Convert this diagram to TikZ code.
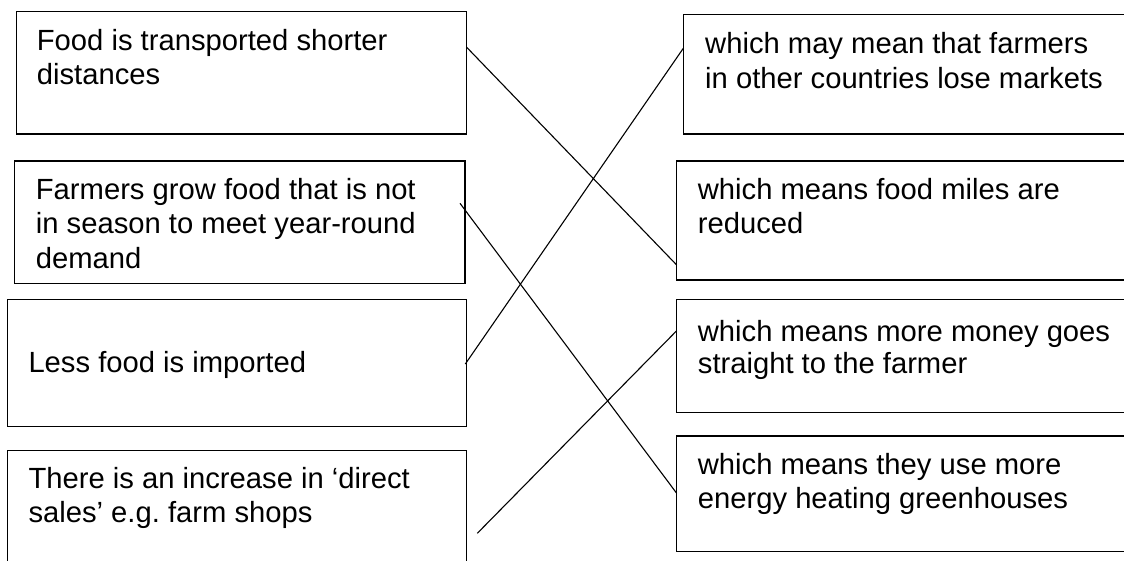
\documentclass[tikz,border=0pt]{standalone}
\usepackage{fontspec}
\setmainfont{Liberation Sans}
\frenchspacing
\begin{document}
\begin{tikzpicture}[x=1pt,y=-1pt,
  box/.style={draw=black, line width=1.4pt, inner sep=0pt, outer sep=0pt, anchor=north west},
  txt/.style={anchor=north west, inner sep=0pt, align=left,
              font=\fontsize{29.2}{34.6}\selectfont},
  link/.style={draw=black, line width=1.1pt}]
% page area; the right-hand boxes and the last left box run past its edges
\clip (0,0) rectangle (1124,560);
\fill[white] (0,0) rectangle (1124,560);

% left column: causes
\node[box, minimum width=450.4pt, minimum height=122.7pt] (L1) at (16.3,11.3) {};
\node[box, minimum width=450.3pt, minimum height=122.3pt] (L2) at (14.7,161) {};
\node[box, minimum width=459.0pt, minimum height=127.4pt] (L3) at (7.3,299.3) {};
\node[box, minimum width=459.0pt, minimum height=130pt]   (L4) at (7.3,450.7) {};

% right column: consequences
\node[box, minimum width=460pt, minimum height=119.3pt] (R1) at (683.3,14.7) {};
\node[box, minimum width=470pt, minimum height=119pt]   (R2) at (676.7,161) {};
\node[box, minimum width=470pt, minimum height=113.4pt] (R3) at (676.7,299.3) {};
\node[box, minimum width=470pt, minimum height=115.7pt] (R4) at (676.7,436) {};

% texts (top of each node sits 22pt above the first baseline)
\node[txt] (tL1) at (36.7,28)    {\rule{0pt}{22pt}Food is transported shorter\\distances};
\node[txt] (tL2) at (35.7,177)   {\rule{0pt}{22pt}Farmers grow food that is not\\in season to meet year-round\\demand};
\node[txt] (tL3) at (28.3,350.5) {\rule{0pt}{22pt}Less food is imported};
\node[txt] (tL4) at (28.3,466)   {\rule{0pt}{22pt}There is an increase in ‘direct\\sales’ e.g. farm shops};
\node[txt] (tR1) at (705,31.3)   {\rule{0pt}{22pt}which may mean that farmers\\in other countries lose markets};
\node[txt] (tR2) at (697.7,177)  {\rule{0pt}{22pt}which means food miles are\\reduced};
\node[txt, font=\fontsize{29.2}{31.5}\selectfont] (tR3) at (697.7,319.7)
  {\rule{0pt}{22pt}which means more money goes\\straight to the farmer};
\node[txt] (tR4) at (697.7,452)  {\rule{0pt}{22pt}which means they use more\\energy heating greenhouses};

% matching lines
\draw[link] ([yshift=-36pt]L1.north east) -- ([yshift=-104pt]R2.north west);
\draw[link] ([shift={(-5pt,-42.3pt)}]L2.north east) -- ([yshift=-57.3pt]R4.north west);
\draw[link] ([shift={(-1pt,-64.7pt)}]L3.north east) -- ([yshift=-33.6pt]R1.north west);
\draw[link] ([shift={(11pt,-82.6pt)}]L4.north east) -- ([yshift=-31.4pt]R3.north west);
\end{tikzpicture}
\end{document}
